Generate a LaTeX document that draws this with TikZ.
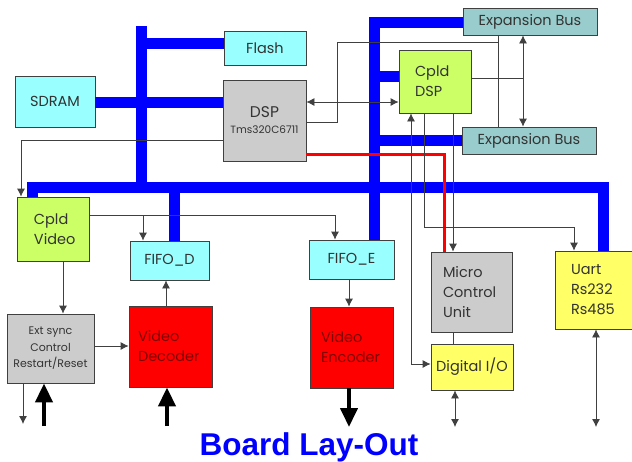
\documentclass[tikz,border=0pt]{standalone}
\usepackage{fontspec}
\setmainfont{Poppins}
\newfontfamily\titlefont{Liberation Sans}
\usetikzlibrary{arrows.meta}

\definecolor{cyanbox}{HTML}{99FFFF}
\definecolor{tealbox}{HTML}{99CCCC}
\definecolor{greenbox}{HTML}{CCFF66}
\definecolor{graybox}{HTML}{CCCCCC}
\definecolor{redbox}{HTML}{FF0000}
\definecolor{yellowbox}{HTML}{FFFF66}
\definecolor{busblue}{HTML}{0000FF}
\definecolor{boxline}{HTML}{404040}
\definecolor{txt}{HTML}{333333}
\definecolor{darkred}{HTML}{800000}

\begin{document}
\begin{tikzpicture}[x=1pt,y=-1pt]
			\tikzstyle{blk} = [draw=boxline, line width=0.8pt, inner sep=0pt, text=txt, font=\fontsize{14.5}{20}\selectfont]
			\tikzstyle{bus} = [draw=busblue, line width=11pt, line join=miter]
			\tikzstyle{wire} = [draw=black!75, line width=0.8pt]
			\tikzset{arr/.style = {wire, -{Latex[length=8pt,width=8pt]}}}
			\tikzset{dline/.style = {wire, {Latex[length=8pt,width=8pt]}-{Latex[length=8pt,width=8pt]}}}
			\tikzset{thick arr/.style = {draw=black, line width=4pt, -{Triangle[length=19pt,width=17pt]}}}

			\useasboundingbox (0,0) rectangle (632,461);
			\clip (0,0) rectangle (632,461);

			% memories and processor
			\node[blk, fill=cyanbox, minimum width=82, minimum height=34](flash) at (265,48) {Flash};
			\node[blk, fill=cyanbox, minimum width=80, minimum height=51](sdram) at (55,101.5) {SDRAM};
			\node[blk, fill=graybox, minimum width=83, minimum height=81, align=center](dsp) at (264.5,120.5) {{\fontsize{15.5}{18}\selectfont DSP}\\[-4pt]{\fontsize{10.5}{12}\selectfont Tms320C6711}};

			% expansion side
			\node[blk, fill=tealbox, minimum width=134, minimum height=27](expt) at (530,21.5) {Expansion Bus};
			\node[blk, fill=tealbox, minimum width=134, minimum height=27](expb) at (529,140.5) {Expansion Bus};
			\node[blk, fill=greenbox, minimum width=72, minimum height=63, inner xsep=16pt, text width=40pt, align=left](cdsp) at (435,81.5) {Cpld\\DSP};

			% video path
			\node[blk, fill=greenbox, minimum width=72, minimum height=64, inner xsep=17pt, text width=38pt, align=left](cvideo) at (53,229) {Cpld\\Video};
			\node[blk, fill=cyanbox, minimum width=79, minimum height=39](fifod) at (169.5,260.5) {FIFO\_D};
			\node[blk, fill=cyanbox, minimum width=85, minimum height=39](fifoe) at (351.5,259.5) {FIFO\_E};
			\node[blk, fill=graybox, minimum width=87, minimum height=69, align=center, font=\fontsize{11}{16.5}\selectfont](ext) at (50.5,348.5) {Ext sync\\Control\\Restart/Reset};
			\node[blk, fill=redbox, text=darkred, minimum width=83, minimum height=81, inner xsep=9pt, text width=65pt, align=left](vdec) at (170.5,346.5) {Video\\Decoder};
			\node[blk, fill=redbox, text=darkred, minimum width=83, minimum height=81, inner xsep=11pt, text width=61pt, align=left](venc) at (351.5,347.5) {Video\\Encoder};

			% control side
			\node[blk, fill=graybox, minimum width=81, minimum height=80, inner xsep=12pt, text width=57pt, align=left](mcu) at (471.5,292) {Micro\\Control\\Unit};
			\node[blk, fill=yellowbox, minimum width=82, minimum height=46](dio) at (472,367) {Digital I/O};
			\node[blk, fill=yellowbox, minimum width=85, minimum height=78, inner xsep=16pt, text width=53pt, align=left](uart) at (597.5,290) {Uart\\Rs232\\Rs485};

			\node[font=\titlefont\bfseries\fontsize{31.5}{31.5}\selectfont, text=busblue, anchor=base](title) at (309,455) {Board Lay-Out};

			% free ends
			\coordinate (extout) at (23,424);
			\coordinate (extin) at (44,426);
			\coordinate (decin) at (167,426);
			\coordinate (encout) at (349,427);
			\coordinate (dioout) at (455,427);
			\coordinate (uartout) at (596,427);
			\coordinate (vtap) at (143,215);
			\coordinate (exptap) at (498,42);

			% buses
			\draw[bus] (141,26) -- (141,188);
			\draw[bus] (141,43.5) -- (flash.west |- 0,43.5);
			\draw[bus] (sdram.east |- 0,102) -- (dsp.west |- 0,102);
			\draw[bus] (cvideo.north -| 32.5,0) -- (32.5,187.5) -- (603.5,187.5) -- (uart.north -| 603.5,0);
			\draw[bus] (174,187.5) -- (fifod.north -| 174,0);
			\draw[bus] (fifoe.north -| 374,0) -- (374,22.5) -- (expt.west |- 0,22.5);
			\draw[bus] (374,76.5) -- (cdsp.west |- 0,76.5);
			\draw[bus] (374,140) -- (expb.west |- 0,140);

			% control lines
			\draw[arr] (dsp.west |- 0,140) -| (cvideo.north -| 21,0);
			\draw[dline] (dsp.east |- 0,102) -- (cdsp.west |- 0,102);
			\draw[wire] (dsp.east |- 0,122) -- (337,122) |- (exptap);
			\draw[wire] (expt.south -| exptap) -- (expb.north -| exptap);
			\draw[dline] (expt.south -| 523,0) -- (expb.north -| 523,0);
			\draw[wire] (cdsp.east |- 0,78) -- (523,78);
			\draw[draw=redbox, line width=3pt] (dsp.east |- 0,154) -| (mcu.north -| 444,0);
			\draw[arr] (cdsp.south -| 453,0) -- (mcu.north -| 453,0);
			\draw[arr] (cdsp.south -| 424,0) |- (574,227) -- (uart.north -| 574,0);
			\draw[dline] (dio.west |- 0,364) -| (cdsp.south -| 411,0);
			\draw[arr] (cvideo.east |- 0,215) -| (fifoe.north -| 335,0);
			\draw[arr] (vtap) -- (fifod.north -| vtap);
			\draw[arr] (cvideo.south -| 63,0) -- (ext.north -| 63,0);
			\draw[arr] (ext.east |- 0,346) -- (vdec.west |- 0,346);
			\draw[arr] (vdec.north -| 166,0) -- (fifod.south -| 166,0);
			\draw[arr] (fifoe.south -| 349,0) -- (venc.north -| 349,0);
			\draw[wire] (mcu.south -| 453,0) -- (dio.north -| 453,0);

			% outside world
			\draw[arr] (ext.south -| extout) -- (extout);
			\draw[thick arr] (extin) -- (ext.south -| extin);
			\draw[thick arr] (decin) -- (vdec.south -| decin);
			\draw[thick arr] (venc.south -| encout) -- (encout);
			\draw[dline] (dio.south -| dioout) -- (dioout);
			\draw[dline] (uart.south -| uartout) -- (uartout);
\end{tikzpicture}
\end{document}
